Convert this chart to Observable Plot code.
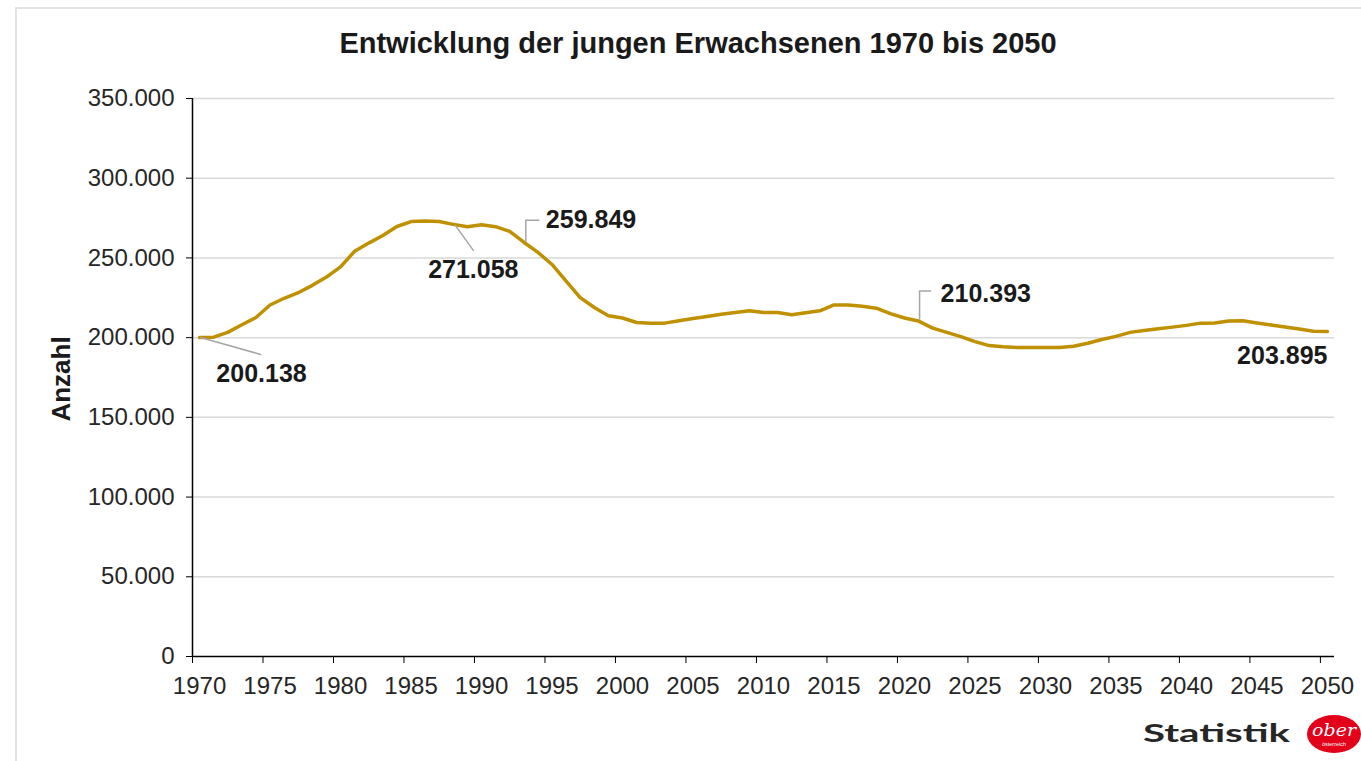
<!DOCTYPE html>
<html>
<head>
<meta charset="utf-8">
<script src="https://cdn.jsdelivr.net/npm/d3@7"></script>
<script src="https://cdn.jsdelivr.net/npm/@observablehq/plot@0.6"></script>
<style>
  html, body { margin: 0; padding: 0; background: #fff; }
  #wrap { position: relative; width: 1361px; height: 761px; overflow: hidden; font-family: "Liberation Sans", Arial, sans-serif; }
  #border { position: absolute; left: 15px; top: 7px; width: 1400px; height: 800px; border-left: 2px solid #e3e3e3; border-top: 2px solid #e3e3e3; }
  #title { position: absolute; left: 0; width: 1396px; top: 27px; text-align: center; font-weight: bold; font-size: 29px; color: #1a1a1a; }
  #chart { position: absolute; left: 0; top: 0; }
  #ylabel { position: absolute; left: 61px; top: 379px; transform: translate(-50%, -50%) rotate(-90deg); font-weight: bold; font-size: 26px; color: #1a1a1a; white-space: nowrap; }
  #brand { position: absolute; left: 1136px; top: 708px; }
  #logo { position: absolute; left: 1300px; top: 708px; }
</style>
</head>
<body>
<div id="wrap">
  <div id="border"></div>
  <div id="chart"></div>
  <div id="title">Entwicklung der jungen Erwachsenen 1970 bis 2050</div>
  <div id="ylabel">Anzahl</div>
  <svg id="brand" width="165" height="50">
    <text x="7" y="34" textLength="147" lengthAdjust="spacingAndGlyphs" fill="#262626" font-family="Lato, 'Open Sans', sans-serif" font-weight="bold" font-size="25">Statistik</text>
  </svg>
  <svg id="logo" width="70" height="50">
    <ellipse cx="34" cy="26" rx="27" ry="19" fill="#e2001a"></ellipse>
    <text x="34" y="28" text-anchor="middle" fill="#fff" font-family="DejaVu Serif, serif" font-style="italic" font-size="17" textLength="44" lengthAdjust="spacingAndGlyphs">ober</text>
    <text x="34" y="38" text-anchor="middle" fill="#fff" font-family="Liberation Sans, Arial" font-size="5.5">österreich</text>
  </svg>
</div>
<script>
// ---- data ----
const years = d3.range(1970, 2051);
const values = [
  200138, 200300, 203300, 208100, 212600, 220500, 224700, 228200, 232800, 238000, // 1970-1979
  244400, 254200, 259300, 264100, 269700, 272800, 273200, 272800, 271058, 269500, // 1980-1989
  270800, 269600, 266600, 259849, 253500, 245900, 235500, 225100, 218900, 213700, // 1990-1999
  212300, 209500, 209100, 209100, 210600, 212000, 213300, 214700, 215800, 216800, // 2000-2009
  215800, 215800, 214300, 215600, 216800, 220500, 220500, 219700, 218500, 215100, // 2010-2019
  212300, 210393, 206000, 203300, 200600, 197500, 195000, 194300, 193800, 193800, // 2020-2029
  193800, 193800, 194600, 196500, 198800, 200800, 203300, 204500, 205600, 206600, // 2030-2039
  207700, 209100, 209200, 210400, 210600, 209200, 207900, 206700, 205400, 204000, // 2040-2049
  203895                                                                          // 2050
];
const yTicks = [0, 50000, 100000, 150000, 200000, 250000, 300000, 350000];
const xTickYears = [1970, 1975, 1980, 1985, 1990, 1995, 2000, 2005, 2010, 2015, 2020, 2025, 2030, 2035, 2040, 2045, 2050];
const annoYears = [1970, 1988, 1993, 2021, 2050];

const data = years.map((y, i) => ({year: y, value: values[i]}));
const fmt = v => d3.format(",")(v).replace(/,/g, ".");

// ---- layout ----
const W = 1361, H = 761, ML = 192, MR = 27, MT = 98, MB = 105;
const pxYear = (W - ML - MR) / 81;
const pxVal = (H - MT - MB) / 350000;

// annotation placement (pixel offsets from the data point)
const annoStyle = {
  1970: {dx: 62, dy: 37, anchor: "middle", leader: [[1, 0], [61, 17]]},
  1988: {dx: 20, dy: 46, anchor: "middle", leader: [[2, 1], [20, 26]]},
  1993: {dx: 22, dy: -22, anchor: "start", leader: [[2, -1], [2, -22], [15, -22]]},
  2021: {dx: 22, dy: -27, anchor: "start", leader: [[1, -2], [1, -30], [12, -30]]},
  2050: {dx: 0, dy: 25, anchor: "end", leader: null}
};

const annoMarks = [];
for (const yr of annoYears) {
  const d = data.find(e => e.year === yr);
  const s = annoStyle[yr];
  if (s.leader) {
    const pts = s.leader.map(([dx, dy]) => ({x: yr + dx / pxYear, y: d.value - dy / pxVal}));
    annoMarks.push(Plot.line(pts, {x: "x", y: "y", stroke: "#a6a6a6", strokeWidth: 1.5}));
  }
  annoMarks.push(Plot.text([d], {
    x: "year", y: "value", text: e => fmt(e.value),
    dx: s.dx, dy: s.dy, textAnchor: s.anchor,
    fontSize: 25, fontWeight: "bold", fill: "#1a1a1a"
  }));
}

const chart = Plot.plot({
  width: W, height: H,
  marginLeft: ML, marginRight: MR, marginTop: MT, marginBottom: MB,
  style: {fontFamily: "Liberation Sans, Arial, sans-serif", fontSize: "24px", color: "#262626", background: "transparent"},
  x: {domain: [1969.5, 2050.5]},
  y: {domain: [0, 350000]},
  marks: [
    Plot.ruleY(yTicks.filter(v => v > 0), {stroke: "#d9d9d9", strokeWidth: 1.5}),
    Plot.axisY({ticks: yTicks, tickSize: 6, tickPadding: 12, tickFormat: fmt, label: null, fontSize: 24, stroke: "#000"}),
    Plot.axisX({ticks: xTickYears.map(y => y - 0.5), tickSize: 7, tickFormat: () => "", label: null, stroke: "#000"}),
    Plot.axisX({ticks: xTickYears, tickSize: 0, tickPadding: 20, tickFormat: d => String(d), label: null, fontSize: 24}),
    Plot.ruleX([1969.5], {stroke: "#000", strokeWidth: 1.5}),
    Plot.ruleY([0], {stroke: "#000", strokeWidth: 1.5}),
    Plot.line(data, {x: "year", y: "value", stroke: "#bf9000", strokeWidth: 3.5, strokeLinejoin: "round"}),
    ...annoMarks
  ]
});
document.getElementById("chart").appendChild(chart);
</script>
</body>
</html>
